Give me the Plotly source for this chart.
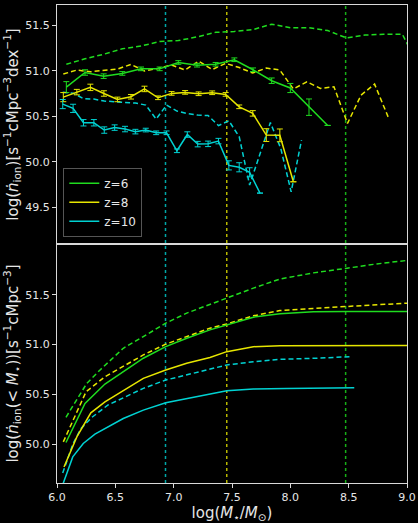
import plotly.graph_objects as go
from plotly.subplots import make_subplots

# ---------------- data: top panel (differential) ----------------
z6_x = [6.08, 6.24, 6.40, 6.56, 6.72, 6.88, 7.04, 7.20, 7.36, 7.52, 7.68, 7.84, 8.00, 8.16, 8.32]
z6_y = [50.82, 50.98, 50.94, 50.97, 51.02, 51.02, 51.09, 51.06, 51.07, 51.12, 51.01, 50.89, 50.81, 50.60, 50.40]
z6_err = [0.06, 0.03, 0.025, 0.02, 0.02, 0.02, 0.02, 0.02, 0.02, 0.02, 0.02, 0.03, 0.05, 0.09, 0.0]
z6d_x = [6.08, 6.24, 6.40, 6.56, 6.72, 6.88, 7.04, 7.20, 7.36, 7.52, 7.68, 7.84, 8.00, 8.16, 8.32,
         8.48, 8.64, 8.80, 8.96, 9.12]
z6d_y = [51.07, 51.13, 51.18, 51.24, 51.27, 51.32, 51.33, 51.37, 51.42, 51.43, 51.45, 51.51, 51.47, 51.47, 51.44,
         51.36, 51.39, 51.40, 51.40, 51.00]

z8_x = [6.054, 6.170, 6.286, 6.402, 6.518, 6.634, 6.750, 6.866, 6.982, 7.098, 7.214, 7.330, 7.446, 7.562,
        7.678, 7.794, 7.910, 8.026]
z8_y = [50.71, 50.765, 50.817, 50.75, 50.685, 50.714, 50.80, 50.703, 50.751, 50.762, 50.747, 50.758, 50.74,
        50.604, 50.532, 50.294, 50.291, 49.782]
z8_err = [0.05, 0.03, 0.035, 0.03, 0.025, 0.025, 0.03, 0.02, 0.02, 0.02, 0.02, 0.02, 0.02, 0.02, 0.03, 0.07, 0.07, 0.0]
z8d_x = [6.054, 6.170, 6.286, 6.402, 6.518, 6.634, 6.750, 6.866, 6.982, 7.098, 7.214, 7.330, 7.446, 7.562,
         7.678, 7.794, 7.910, 8.026, 8.142, 8.258, 8.374, 8.490, 8.606, 8.722, 8.838]
z8d_y = [50.963, 51.007, 50.988, 51.007, 51.018, 51.069, 50.996, 51.025, 51.061, 51.007, 51.105, 51.012, 51.08,
         51.034, 50.974, 51.029, 51.007, 50.80, 50.878, 50.806, 50.823, 50.422, 50.732, 50.853, 50.494]

z10_x = [6.049, 6.138, 6.227, 6.316, 6.405, 6.494, 6.583, 6.672, 6.761, 6.850, 6.939, 7.028, 7.117, 7.206,
         7.295, 7.384, 7.473, 7.562, 7.651, 7.740]
z10_y = [50.634, 50.587, 50.429, 50.429, 50.349, 50.376, 50.36, 50.332, 50.349, 50.319, 50.319, 50.122, 50.30,
         50.195, 50.198, 50.228, 49.962, 49.941, 49.886, 49.658]
z10_err = [0.05, 0.045, 0.035, 0.035, 0.035, 0.03, 0.03, 0.025, 0.02, 0.02, 0.02, 0.02, 0.03, 0.03, 0.03,
           0.03, 0.05, 0.05, 0.05, 0.0]
z10d_x = [6.049, 6.138, 6.227, 6.316, 6.405, 6.494, 6.583, 6.672, 6.761, 6.850, 6.939, 7.028, 7.117, 7.206,
          7.295, 7.384, 7.473, 7.562, 7.651, 7.740, 7.829, 7.918, 8.007, 8.096]
z10d_y = [50.763, 50.754, 50.694, 50.689, 50.667, 50.659, 50.656, 50.645, 50.623, 50.469, 50.623, 50.557, 50.53,
          50.513, 50.508, 50.398, 50.451, 50.275, 49.746, 50.093, 50.431, 50.148, 49.672, 50.239]

# ---------------- data: bottom panel (cumulative) ----------------
c6_x = [6.077, 6.24, 6.411, 6.74, 6.932, 7.112, 7.311, 7.455, 7.683, 7.911, 8.197, 8.474, 9.0]
c6_y = [50.017, 50.409, 50.604, 50.863, 50.979, 51.064, 51.148, 51.198, 51.275, 51.309, 51.33, 51.332, 51.332]
c6d_x = [6.077, 6.255, 6.369, 6.568, 6.74, 6.932, 7.112, 7.311, 7.455, 7.683, 7.911, 8.197, 8.474, 8.74, 9.0]
c6d_y = [50.27, 50.61, 50.745, 50.963, 51.08, 51.215, 51.316, 51.406, 51.467, 51.567, 51.658, 51.72, 51.765,
         51.81, 51.845]
c8_x = [6.06, 6.17, 6.29, 6.411, 6.74, 6.932, 7.112, 7.311, 7.455, 7.683, 7.911, 9.0]
c8_y = [49.771, 50.073, 50.315, 50.425, 50.661, 50.745, 50.812, 50.87, 50.929, 50.979, 50.989, 50.99]
c8d_x = [6.054, 6.249, 6.411, 6.74, 6.932, 7.112, 7.311, 7.455, 7.683, 7.911, 8.197, 8.474, 9.0]
c8d_y = [50.023, 50.526, 50.677, 50.896, 51.004, 51.08, 51.165, 51.208, 51.289, 51.342, 51.366, 51.382, 51.416]
c10_x = [6.045, 6.135, 6.225, 6.325, 6.568, 6.74, 6.932, 7.311, 7.455, 7.683, 7.968, 8.548]
c10_y = [49.58, 49.872, 50.007, 50.1, 50.258, 50.342, 50.415, 50.50, 50.536, 50.553, 50.56, 50.566]
c10d_x = [6.049, 6.135, 6.206, 6.298, 6.435, 6.74, 6.932, 7.311, 7.455, 7.683, 7.911, 8.197, 8.525]
c10d_y = [49.71, 49.999, 50.158, 50.268, 50.392, 50.56, 50.644, 50.755, 50.795, 50.828, 50.852, 50.862, 50.879]

# vertical reference masses
vlines = [6.93, 7.455, 8.474]

labels = ["z=6", "z=8", "z=10"]
GREEN, YELLOW, CYAN = "#1fdc1f", "#e6e600", "#00d2d2"
colors = [GREEN, YELLOW, CYAN]

fig = make_subplots(rows=2, cols=1, shared_xaxes=True, vertical_spacing=0)

DASH = "5px,3px"
solid_sets = [(z6_x, z6_y, z6_err), (z8_x, z8_y, z8_err), (z10_x, z10_y, z10_err)]
dash_sets = [(z6d_x, z6d_y), (z8d_x, z8d_y), (z10d_x, z10d_y)]
for (x, y), col in zip(dash_sets, colors):
    fig.add_trace(go.Scatter(x=x, y=y, mode="lines", line=dict(color=col, width=1.5, dash=DASH),
                             showlegend=False), row=1, col=1)
for (x, y, e), col, lab in zip(solid_sets, colors, labels):
    fig.add_trace(go.Scatter(x=x, y=y, mode="lines", name=lab, line=dict(color=col, width=1.5),
                             error_y=dict(type="data", array=e, visible=True, color=col,
                                          thickness=1, width=3)), row=1, col=1)

cum_solid = [(c6_x, c6_y), (c8_x, c8_y), (c10_x, c10_y)]
cum_dash = [(c6d_x, c6d_y), (c8d_x, c8d_y), (c10d_x, c10d_y)]
for (x, y), col in zip(cum_dash, colors):
    fig.add_trace(go.Scatter(x=x, y=y, mode="lines", line=dict(color=col, width=1.5, dash=DASH),
                             showlegend=False), row=2, col=1)
for (x, y), col in zip(cum_solid, colors):
    fig.add_trace(go.Scatter(x=x, y=y, mode="lines", line=dict(color=col, width=1.5),
                             showlegend=False), row=2, col=1)

for xv, col in zip(vlines, [CYAN, YELLOW, GREEN]):
    fig.add_shape(type="line", xref="x", yref="paper", x0=xv, x1=xv, y0=0, y1=1,
                  line=dict(color=col, width=1.5, dash="dot"), opacity=0.8, layer="below")

TXT = "#e6e6e6"
axis_common = dict(showline=True, mirror=True, linecolor="#d8d8d8", linewidth=1, showgrid=False,
                   zeroline=False, ticks="outside", tickcolor="#d8d8d8", ticklen=4,
                   tickfont=dict(color=TXT, size=11, family="DejaVu Sans"))

fig.update_xaxes(**axis_common, range=[6.0, 9.0], tickvals=[6.0, 6.5, 7.0, 7.5, 8.0, 8.5, 9.0],
                 tickformat=".1f")
fig.update_xaxes(showticklabels=False, ticks="", row=1, col=1)
fig.update_xaxes(title=dict(text="log(<i>M</i><sub>⋆</sub>/<i>M</i><sub>⊙</sub>)",
                            font=dict(color=TXT, size=15, family="DejaVu Sans"), standoff=3),
                 row=2, col=1)
fig.update_yaxes(**axis_common)
fig.update_yaxes(range=[49.1, 51.72], tickvals=[49.5, 50.0, 50.5, 51.0, 51.5], tickformat=".1f",
                 title=dict(text="log(<i>ṅ</i><sub>ion</sub>)[s<sup>−1</sup>cMpc<sup>−3</sup>dex<sup>−1</sup>]",
                            font=dict(color=TXT, size=15, family="DejaVu Sans"), standoff=3),
                 row=1, col=1)
fig.update_yaxes(range=[49.61, 52.01], tickvals=[50.0, 50.5, 51.0, 51.5], tickformat=".1f",
                 title=dict(text="log(<i>ṅ</i><sub>ion</sub>(&lt; <i>M</i><sub>⋆</sub>))[s<sup>−1</sup>cMpc<sup>−3</sup>]",
                            font=dict(color=TXT, size=15, family="DejaVu Sans"), standoff=3),
                 row=2, col=1)

fig.update_layout(
    width=418, height=523,
    margin=dict(l=57, r=11, t=5, b=40, autoexpand=False),
    paper_bgcolor="black", plot_bgcolor="black",
    font=dict(family="DejaVu Sans", color=TXT),
    legend=dict(x=0.018, y=0.515, xanchor="left", yanchor="bottom", bgcolor="black",
                bordercolor="#555555", borderwidth=1, font=dict(size=12, color=TXT),
                tracegroupgap=0, itemwidth=30),
)

fig.write_html("out.html")
